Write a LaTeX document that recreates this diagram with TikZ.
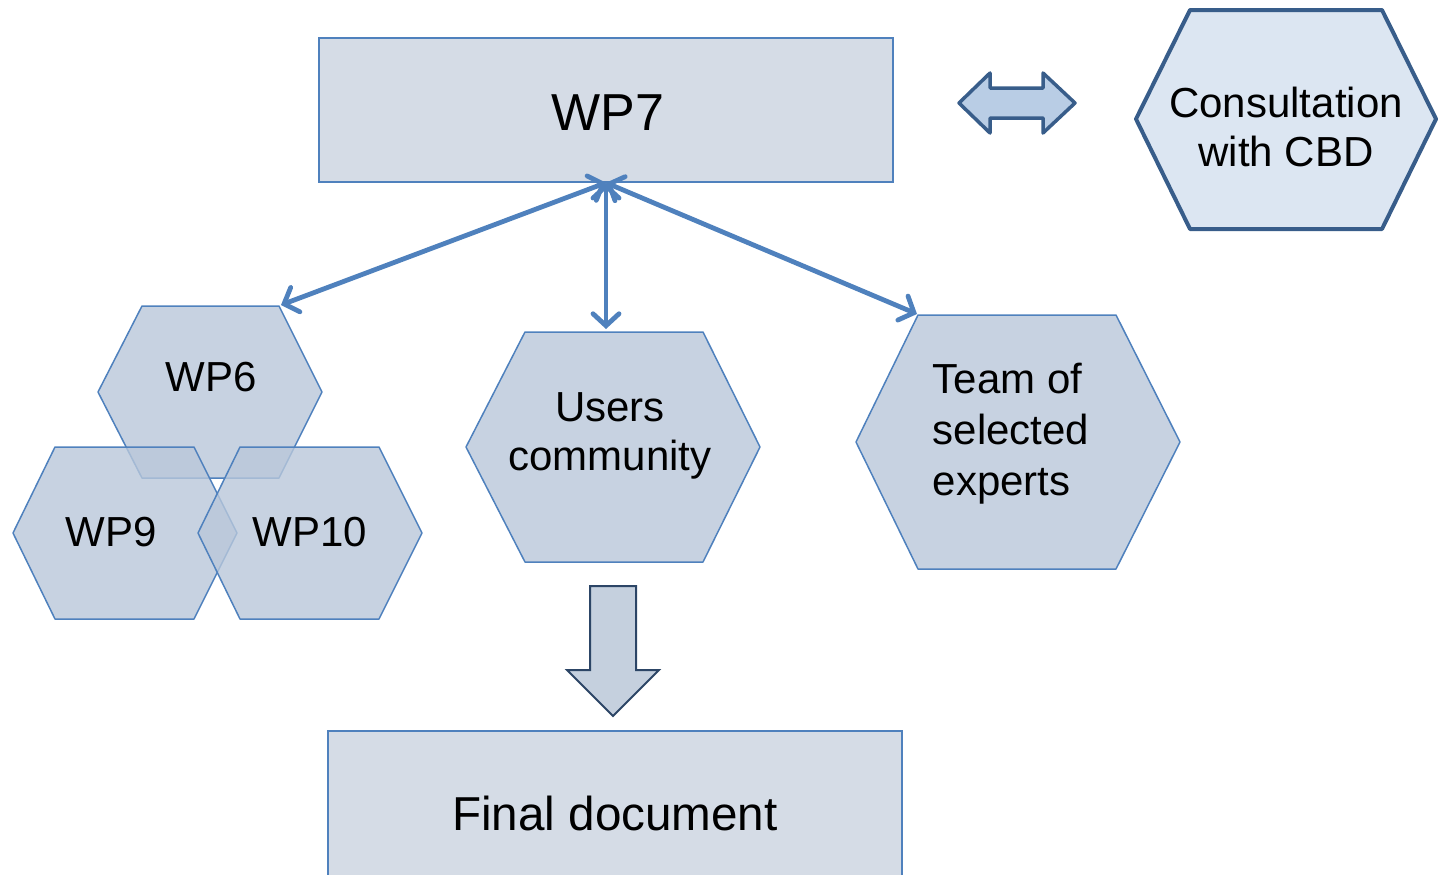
\documentclass[tikz,border=0pt]{standalone}
\usepackage{fontspec}
\setmainfont{Liberation Sans}
\usetikzlibrary{arrows.meta,positioning}
\definecolor{wpline}{HTML}{4F81BD}
\definecolor{darkline}{HTML}{385D8A}
\definecolor{boxfill}{HTML}{D5DCE6}
\definecolor{hexfill}{HTML}{B9C7DA}
\definecolor{cbdfill}{HTML}{DCE6F2}
\definecolor{dblfill}{HTML}{B9CDE5}
\definecolor{downfill}{HTML}{C5D0DE}
\definecolor{downline}{HTML}{2C4566}
\tikzset{wpbox/.style={draw=wpline, fill=boxfill, line width=0.75pt, minimum width=287pt, minimum height=72pt, inner sep=0pt, font=\fontsize{26}{30}\selectfont}}
\tikzset{hexa/.style={draw=wpline, fill=hexfill, fill opacity=0.8, line width=0.75pt, line join=round}}
\tikzset{lbl/.style={font=\fontsize{21}{24.5}\selectfont, align=center, inner sep=0pt}}
\tikzset{link/.style={draw=wpline, line width=2.4pt, line cap=round, {Straight Barb[length=6pt,width=13pt,line cap=round]}-{Straight Barb[length=6pt,width=13pt,line cap=round]}}}

\begin{document}
\begin{tikzpicture}[x=0.5pt,y=-0.5pt]
                \useasboundingbox (0,0) rectangle (1441,874);
                % boxes
                \node[wpbox] (wp7) at (606,110) {};
                \node[inner sep=0pt, font=\fontsize{26}{30}\selectfont] (wp7text) at (608,113) {WP7};
                \node[wpbox, minimum height=82pt, font=\fontsize{23.8}{28}\selectfont] (final) at (615,813) {Final document};
                % hexagons
                \draw[hexa] (98,392) -- (142,306) -- (279,306) -- (322,392) -- (279,478) -- (142,478) -- cycle;
                \draw[hexa] (13,533) -- (55,447) -- (194,447) -- (237,533) -- (194,619) -- (55,619) -- cycle;
                \draw[hexa] (198,533) -- (240,447) -- (379,447) -- (422,533) -- (379,619) -- (240,619) -- cycle;
                \draw[hexa] (466,447) -- (525,332) -- (703,332) -- (760,447) -- (703,562) -- (525,562) -- cycle;
                \draw[hexa] (856,442) -- (918,315) -- (1116,315) -- (1180,442) -- (1116,569) -- (918,569) -- cycle;
                \draw[draw=darkline, fill=cbdfill, line width=2pt, line join=round] (1136,119) -- (1190,10) -- (1382,10) -- (1436,119) -- (1382,229) -- (1190,229) -- cycle;
                \node[lbl] (wpsix) at (211,377) {WP6};
                \node[lbl] (wpnine) at (111,532) {WP9};
                \node[lbl] (wpten) at (310,532) {WP10};
                \node[lbl] (users) at (610,436) {Users\\community};
                \node[lbl, align=left, font=\fontsize{21}{25.5}\selectfont] (team) at (1011,434) {Team of\\selected\\experts};
                \node[lbl] (cbd) at (1286,127) {Consultation\\with CBD};
                % block arrows
                \draw[draw=darkline, fill=dblfill, line width=1.75pt, line join=round] (959,103) -- (990,73) -- (990,88) -- (1043,88) -- (1043,73) -- (1075,103) -- (1043,133) -- (1043,118) -- (990,118) -- (990,133) -- cycle;
                \draw[draw=downline, fill=downfill, line width=1pt, line join=miter] (590,586) -- (636,586) -- (636,670) -- (659,670) -- (613,716) -- (567,670) -- (590,670) -- cycle;
                % links
                \coordinate (wpsixtip) at (281,305);
                \coordinate (userstip) at (606,329);
                \coordinate (teamtip) at (917,314);
                \path[link] (wp7.south) -- (wpsixtip);
                \path[link] (wp7.south) -- (userstip);
                \path[link] (wp7.south) -- (teamtip);
            \end{tikzpicture}
\end{document}
